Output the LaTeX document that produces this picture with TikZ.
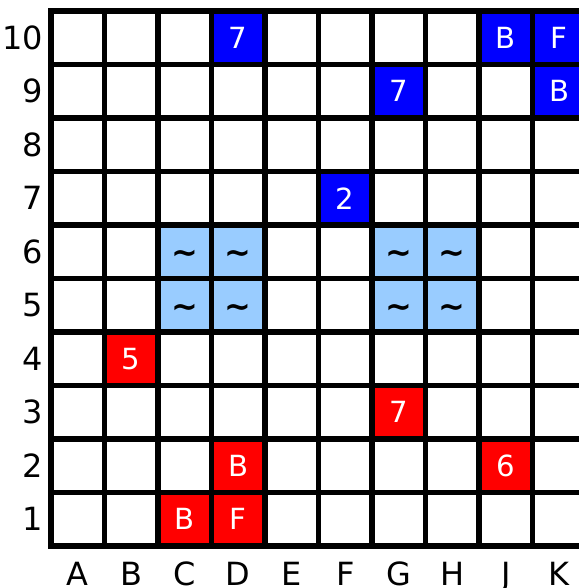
\documentclass[tikz,border=0pt]{standalone}
\usepackage{fontspec}
\setmainfont{DejaVu Sans}
\usepackage{tikz}
\usetikzlibrary{positioning}
\definecolor{redarmy}{RGB}{255,0,0}
\definecolor{bluearmy}{RGB}{0,0,255}
\definecolor{lakewater}{RGB}{153,204,255}
\tikzset{
  square/.style={minimum size=1cm, inner sep=0pt,
    font=\fontsize{15.5}{18}\selectfont},
  redpiece/.style={square, fill=redarmy, text=white},
  bluepiece/.style={square, fill=bluearmy, text=white},
  lake/.style={square, fill=lakewater, text=black,
    font=\fontsize{17}{20}\selectfont\bfseries, text height=12.7pt, text depth=0pt},
  coordlab/.style={inner sep=0pt, font=\fontsize{17}{20}\selectfont},
  boardline/.style={line width=2.8pt}
}

\begin{document}
\begin{tikzpicture}
  \useasboundingbox (-0.953,-0.785) rectangle (9.869,10.206);
  \clip (-0.953,-0.785) rectangle (9.869,10.206);
  % lakes
  \foreach \x/\y in {2/5,3/5,6/5,7/5,2/4,3/4,6/4,7/4}
    \node[lake] (lake\x\y) at (\x+0.5,\y+0.5) {\textasciitilde};
  % blue pieces
  \node[bluepiece] (D10) at (3.5,9.5) {7};
  \node[bluepiece] (J10) at (8.5,9.5) {B};
  \node[bluepiece] (K10) at (9.5,9.5) {F};
  \node[bluepiece] (G9) at (6.5,8.5) {7};
  \node[bluepiece] (K9) at (9.5,8.5) {B};
  \node[bluepiece] (F7) at (5.5,6.5) {2};
  % red pieces
  \node[redpiece] (B4) at (1.5,3.5) {5};
  \node[redpiece] (G3) at (6.5,2.5) {7};
  \node[redpiece] (D2) at (3.5,1.5) {B};
  \node[redpiece] (J2) at (8.5,1.5) {6};
  \node[redpiece] (C1) at (2.5,0.5) {B};
  \node[redpiece] (D1) at (3.5,0.5) {F};
  % board
  \draw[boardline] (0,0) grid (10,10);
  \draw[boardline, line cap=rect] (0,0) rectangle (10,10);
  % coordinates
  \foreach \c [count=\i from 0] in {A,B,C,D,E,F,G,H,J,K}
    \node[coordlab, anchor=base] (col\c) at (\i+0.5,-0.74) {\c};
  \foreach \r in {1,...,10}
    \node[coordlab, anchor=east] (row\r) at (-0.14,\r-0.5) {\r};
\end{tikzpicture}
\end{document}
